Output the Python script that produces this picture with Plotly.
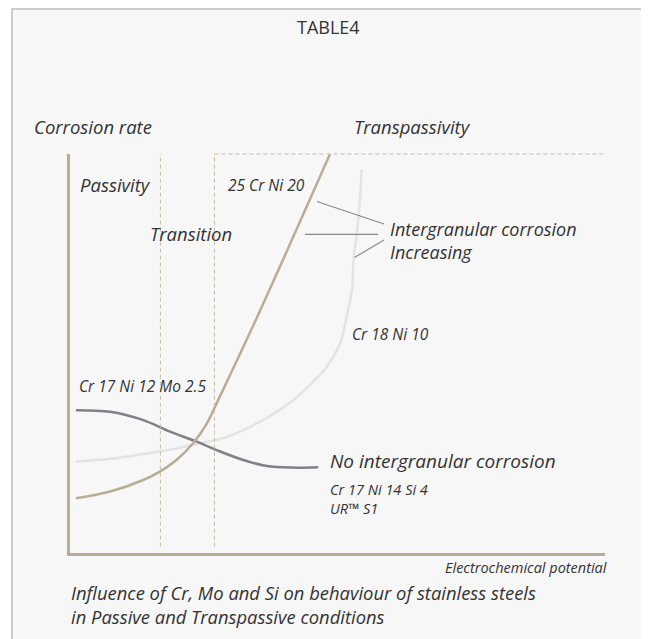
import plotly.graph_objects as go

# electrochemical potential (arbitrary units, 0-100 along the axis)
pot_25cr = [1.1, 7.5, 13.7, 16.8, 19.9, 23.0, 25.6, 27.4, 34.9, 48.6]
rate_25cr = [13.7, 15.4, 18.3, 20.4, 23.3, 27.5, 32.5, 37.5, 58.9, 100.0]

pot_18cr = [1.1, 7.5, 13.7, 19.9, 23.7, 29.3, 35.5, 41.7, 45.8, 48.0, 50.5, 51.7, 52.7, 53.0, 53.6, 54.2, 54.5]
rate_18cr = [22.9, 23.6, 24.8, 26.2, 27.3, 29.1, 32.9, 38.3, 43.4, 46.7, 52.6, 59.2, 65.9, 73.4, 80.1, 88.5, 96.2]

pot_17mo = [1.1, 7.5, 13.7, 18.7, 23.7, 27.4, 32.4, 36.8, 41.7, 46.4]
rate_17mo = [35.8, 35.4, 33.3, 30.4, 27.9, 25.8, 23.3, 21.8, 21.4, 21.5]

zone_limits = [16.9, 27.0]   # passivity | transition | transpassivity

# page has an 8px body margin, so the figure is drawn 8px in from the window corner
OFF = 8
W, H = 649 - OFF, 639 - OFF
L, R, T, B = 70, 605, 154, 553   # plot box, in window pixels

TAN = "#b9ad96"
DASH = "#cbbca4"
TXT = "#333333"
FONT = "Open Sans"


def px(x):
    return (x - L) / (R - L)


def py(y):
    return (B - y) / (B - T)


fig = go.Figure()

fig.add_trace(go.Scatter(x=pot_18cr, y=rate_18cr, mode="lines", line=dict(color="#e3e3e3", width=2.5, shape="spline"),
                         hoverinfo="skip"))
fig.add_trace(go.Scatter(x=pot_17mo, y=rate_17mo, mode="lines", line=dict(color="#808086", width=2.5, shape="spline"),
                         hoverinfo="skip"))
fig.add_trace(go.Scatter(x=pot_25cr, y=rate_25cr, mode="lines", line=dict(color=TAN, width=2.5, shape="spline"),
                         hoverinfo="skip"))

shapes = []
# card
shapes.append(dict(type="rect", xref="paper", yref="paper", x0=px(12), x1=px(647.5), y0=py(9), y1=py(700),
                   line=dict(color="#bdbdbd", width=1.5), fillcolor="#f7f7f7", layer="below"))
# zone boundaries
for z in zone_limits:
    shapes.append(dict(type="line", xref="x", yref="y", x0=z, x1=z, y0=1.6, y1=100,
                       line=dict(color=DASH, width=1, dash="4px,3px")))
shapes.append(dict(type="line", xref="x", yref="paper", x0=zone_limits[1], x1=103.7, y0=1, y1=1,
                   line=dict(color=DASH, width=1, dash="4px,3px")))
# leader lines
for (a, b), (c, d) in [((317, 201.5), (384, 224)), ((305, 234.3), (378, 234.3)), ((384, 240), (354.5, 257.5))]:
    shapes.append(dict(type="line", xref="paper", yref="paper", x0=px(a), y0=py(b), x1=px(c), y1=py(d),
                       line=dict(color="#8a8a8a", width=1.2)))

texts = [
    ("TABLE4", 328, 27, 18, "center", False),
    ("Corrosion rate", 33, 126, 18.5, "left", True),
    ("Transpassivity", 353, 126, 18.5, "left", True),
    ("Passivity", 79, 184, 18.5, "left", True),
    ("25 Cr Ni 20", 227, 185, 15.5, "left", True),
    ("Transition", 149, 233, 18.5, "left", True),
    ("Intergranular corrosion<br>Increasing", 389, 240, 18, "left", True),
    ("Cr 18 Ni 10", 351, 334, 15.5, "left", True),
    ("Cr 17 Ni 12 Mo 2.5", 78, 386, 15.5, "left", True),
    ("No intergranular corrosion", 329, 461, 19, "left", True),
    ("Cr 17 Ni 14 Si 4<br>UR™ S1", 329, 499, 14.5, "left", True),
    ("Electrochemical potential", 608, 567, 14.5, "right", True),
    ("Influence of Cr, Mo and Si on behaviour of stainless steels<br>in Passive and Transpassive conditions",
     70, 604.5, 18.4, "left", True),
]
annotations = []
for t, x, y, s, anc, it in texts:
    annotations.append(dict(text=f"<i>{t}</i>" if it else t, xref="paper", yref="paper", x=px(x), y=py(y),
                            xanchor=anc, yanchor="middle", align="left", showarrow=False, borderpad=0,
                            font=dict(family=FONT, size=s, color=TXT)))

fig.update_layout(
    width=W, height=H, autosize=False,
    margin=dict(l=L - OFF, r=W - (R - OFF), t=T - OFF, b=H - (B - OFF)),
    paper_bgcolor="white", plot_bgcolor="#f7f7f7", showlegend=False,
    shapes=shapes, annotations=annotations,
    xaxis=dict(range=[0, 100], showgrid=False, zeroline=False, showticklabels=False, ticks="",
               showline=True, linecolor=TAN, linewidth=2.5, fixedrange=True),
    yaxis=dict(range=[0, 100], showgrid=False, zeroline=False, showticklabels=False, ticks="",
               showline=True, linecolor=TAN, linewidth=2.5, fixedrange=True),
)

fig.write_html("out.html", config=dict(displayModeBar=False))
